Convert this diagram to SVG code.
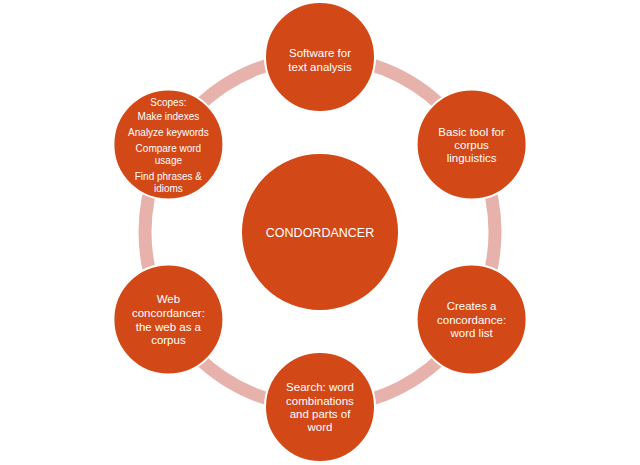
<svg xmlns="http://www.w3.org/2000/svg" width="640" height="465" viewBox="0 0 640 465">
<style>
.node{fill:#D24817;stroke:#ffffff;stroke-width:2}
.t{font-family:"Liberation Sans",Arial,sans-serif;font-size:11.5px;fill:#ffffff;text-anchor:middle}
.s{font-size:10px}
.c{font-size:12.5px}
</style>
<rect width="640" height="465" fill="#ffffff"/>
<g id="connectors">
<circle cx="320" cy="232" r="175" fill="none" stroke="#E8B2AC" stroke-width="13"/>
</g>
<g id="center">
<circle class="node" cx="320" cy="232" r="79"/>
<text class="t c" x="320" y="237">CONDORDANCER</text>
</g>
<g id="n-top">
<circle class="node" cx="320" cy="57" r="55"/>
<text class="t" x="320" y="57">Software for</text>
<text class="t" x="320" y="71">text analysis</text>
</g>
<g id="n-right-top">
<circle class="node" cx="471.6" cy="144.5" r="55"/>
<text class="t" x="471.6" y="136">Basic tool for</text>
<text class="t" x="471.6" y="149">corpus</text>
<text class="t" x="471.6" y="162">linguistics</text>
</g>
<g id="n-right-bottom">
<circle class="node" cx="471.6" cy="319.5" r="55"/>
<text class="t" x="471.6" y="310">Creates a</text>
<text class="t" x="471.6" y="324">concordance:</text>
<text class="t" x="471.6" y="337">word list</text>
</g>
<g id="n-bottom">
<circle class="node" cx="320" cy="407" r="55"/>
<text class="t" x="320" y="391">Search: word</text>
<text class="t" x="320" y="405">combinations</text>
<text class="t" x="320" y="418">and parts of</text>
<text class="t" x="320" y="431">word</text>
</g>
<g id="n-left-bottom">
<circle class="node" cx="168.4" cy="319.5" r="55"/>
<text class="t" x="168.4" y="303">Web</text>
<text class="t" x="168.4" y="317">concordancer:</text>
<text class="t" x="168.4" y="331">the web as a</text>
<text class="t" x="168.4" y="344">corpus</text>
</g>
<g id="n-left-top">
<circle class="node" cx="168.4" cy="144.5" r="55"/>
<text class="t s" x="168.4" y="106">Scopes:</text>
<text class="t s" x="168.4" y="120">Make indexes</text>
<text class="t s" x="168.4" y="136">Analyze keywords</text>
<text class="t s" x="168.4" y="152">Compare word</text>
<text class="t s" x="168.4" y="164">usage</text>
<text class="t s" x="168.4" y="180">Find phrases &amp;</text>
<text class="t s" x="168.4" y="192">idioms</text>
</g>
</svg>
